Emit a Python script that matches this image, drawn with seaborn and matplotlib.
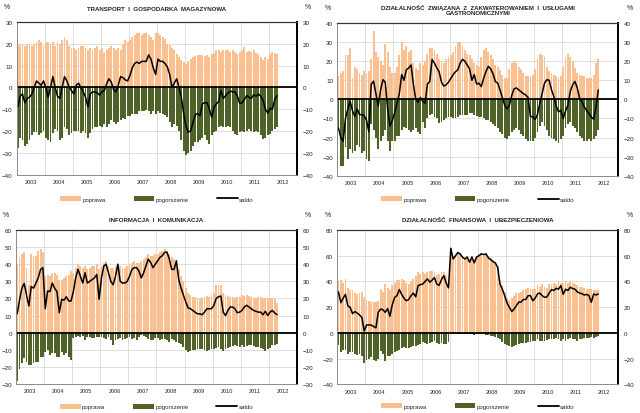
import numpy as np
import seaborn as sns
import matplotlib.pyplot as plt
from matplotlib import font_manager
from matplotlib.patches import Patch
from matplotlib.lines import Line2D

years = ["2003", "2004", "2005", "2006", "2007", "2008", "2009", "2010", "2011", "2012"]
legend_labels = ["poprawa", "pogorszenie", "saldo"]

# monthly values, Jan 2003 - Apr 2012
transport_poprawa = [
    19, 20, 20, 19, 20, 20, 19, 20, 21, 22, 21, 19,
    21, 21, 20, 21, 19, 21, 20, 22, 23, 22, 19, 18,
    18, 17, 18, 19, 19, 18, 17, 18, 17, 18, 19, 17,
    18, 16, 17, 18, 19, 18, 17, 18, 17, 20, 22, 21,
    22, 23, 24, 25, 25, 24, 25, 25, 24, 23, 22, 25,
    25, 24, 23, 22.5, 20, 19.5, 18, 17, 15.5, 14, 12.5, 11.7,
    11, 12, 13, 14, 14.5, 15, 15, 15, 14.5, 15, 14, 15.5,
    16, 17, 17, 16.5, 17, 17.4, 17, 16.3, 17, 16.3, 15.5, 16.3,
    17, 18.6, 16.3, 16.7, 16.3, 17, 15.8, 15.2, 14, 12.8, 14, 13.3,
    15.5, 16.3, 15.8, 15.2]
transport_pogorszenie = [
    -28, -23, -24, -27, -26, -24, -22, -20.5, -20.5, -22, -21, -20,
    -23, -24, -25, -21, -19, -20, -24, -23, -18, -19, -22, -21,
    -20, -20, -20, -21, -20, -21, -23, -21, -19, -18, -18, -17.5,
    -18, -17, -18, -17, -15, -16, -17, -16, -15, -14, -14.5, -13,
    -13, -12, -12, -12, -11, -11, -11, -10.5, -11, -12, -11, -12,
    -11, -11.5, -12, -12.5, -13.5, -16, -18, -17, -17.5, -20, -24, -29,
    -31, -30, -29, -27, -25, -25, -24, -23, -22, -24, -26, -22,
    -20.5, -20, -18.3, -17.5, -18.3, -18, -17.5, -18.3, -20, -21.4, -22, -20.6,
    -20, -20.6, -20, -19, -20, -20.6, -20, -20.6, -22, -23.7, -23, -22,
    -21.4, -20, -19, -18.3]
transport_saldo = [
    -9, -4, -3, -7, -5, -4.5, -3, 0, 3, 2, 1, 3,
    0, -4.5, 0, 5, 0, -4, -5, 0, 5, 3, 0, -1.5,
    -3, 1, 2, 0, -2, -4.5, -9, -3, -2, -2, -2.5, -3.5,
    -2, -1.5, 1.7, 4, 2.5, -1, -2, 1, 5, 4.5, 3.5, 3,
    5.5, 9, 11, 11.7, 11, 12, 12, 12, 15, 13, 9, 6,
    13, 12, 12, 11, 9.5, 6, 0, 2, 4, 0, -4.5, -12,
    -18, -20.5, -20, -16, -12.5, -12, -13, -7.5, -7, -7, -10, -13.7,
    -9, -7.5, -6.5, -1.4, -5, -3.7, -2.5, -1.7, -2, -2, -4, -7.3,
    -7, -5.5, -3.7, -4.5, -5, -3.3, -4, -3, -4, -6, -10, -11.8,
    -9.5, -10, -5.5, -3.7]

gastro_poprawa = [
    12, 14, 15, 23, 23, 27, 11, 17, 16, 14, 13, 15,
    14, 15, 21, 36, 25, 22, 20, 18, 29, 25, 17, 14,
    14, 17, 23, 30, 26, 28, 25, 26, 19, 16.5, 15.5, 19,
    18, 20, 24, 27, 27, 26, 24, 21, 20, 19, 21, 22,
    23, 25, 28, 30, 30, 28, 26, 24, 23, 21, 19, 18,
    17, 22, 26, 27, 25, 23, 21, 18, 17, 15.5, 13, 11,
    11, 16, 19, 20, 19, 17, 16, 14, 12.5, 12, 12, 13,
    16, 21, 24, 23.5, 22, 17, 15, 14, 13, 12, 11, 12,
    17, 22, 24, 22, 20, 16.5, 14, 13, 12, 12, 11, 11,
    11, 13, 19, 21]
gastro_pogorszenie = [
    -16, -35, -35, -25, -31, -26, -28, -27, -24, -25, -28, -27,
    -31, -32, -13, -16, -20, -26, -22, -19, -16, -22, -27, -22,
    -22, -19, -19, -16, -14.5, -15, -16, -17, -16, -15, -17, -18,
    -12, -15, -10, -8, -7.5, -9, -10, -12.5, -12, -11, -10, -9,
    -9, -10, -10, -9, -8, -8, -8, -8, -7, -7, -8, -8.5,
    -9, -9, -10, -11, -11, -12, -13, -14, -15, -17, -18, -20,
    -21, -19, -17, -16, -15, -16, -18, -19, -21, -22, -22, -22,
    -20, -17, -14, -12, -14, -16, -19, -20, -21, -22, -23, -21,
    -19, -15, -13, -12, -14, -15, -17, -19, -20, -22, -22, -21,
    -22, -21, -19, -16]
gastro_saldo = [
    -15, -20, -22, -10, -5, -1, -6, -9, -5, -8, -8, -8.5,
    -11, -17, 8, 9.5, 3, -3.5, 5, 10.3, 9, -5, -14, -11,
    -7, -2, 3, 13, 10, 15.5, 16.5, 18, 8, 0, -1.5, 1,
    -1, -2, 8, 9.4, 20.9, 19, 16.5, 14.5, 9, 7, 7.6, 9,
    11, 13, 14.5, 15.5, 19, 21, 20, 18, 16, 10, 13, 8,
    8.5, 6.7, 11, 14.5, 17.3, 16, 13.5, 9.4, 8.5, 5, 1, -3,
    -5, -3, 2, 5.5, 6, 5, 4, 3, 2.3, 1, -9, -9,
    -10.5, -8, -2, 3, 8.5, 10.3, 10, 5, 1.5, -3.5, -6.5, -5.7,
    -10, -6, -3, 4, 7.6, 9.4, 6, 0.5, -1.2, -4, -5.7, -7.4,
    -9.2, -10.4, -4, 5]

info_poprawa = [
    40, 44, 46, 47, 38, 28, 46, 45, 45, 48, 49, 47,
    33, 34, 33, 35, 35, 34, 31, 31, 32, 33, 34, 36,
    35, 38, 40, 39, 38, 39, 37, 38, 39, 39, 40, 37,
    39, 41, 42, 39, 38, 38, 39, 40, 39, 38, 38, 39,
    40, 41, 42, 41, 41, 42, 43, 44, 46, 45, 45, 46,
    46, 47, 48, 49, 48, 46, 44, 43, 41, 37, 33, 30,
    26, 23, 22, 21, 21, 20.5, 20.5, 20.5, 21, 21.5, 21, 22,
    23, 28, 28, 28, 23, 22, 21.5, 21, 21, 20, 21, 21,
    22, 21.5, 22, 21.5, 21, 20, 20.5, 21, 21, 20.5, 20, 20.5,
    20, 20, 19.5, 17.5]
info_pogorszenie = [
    -28, -21, -18, -15, -17, -19, -19, -18, -17, -17, -14, -14,
    -11, -10, -13, -12, -12, -14, -14, -11, -13, -12, -14, -16,
    -3, -2.5, -2, -2.5, -2, -4.5, -2.5, -2.5, -3, -3, -2.5, -2.5,
    -2.5, -3, -3.5, -2.5, -4.5, -7, -4.5, -3.5, -3, -4.5, -3.5, -3,
    -2.5, -3.5, -3, -4.5, -2.5, -1.5, -2, -2.5, -3.5, -4, -4.5, -3,
    -3, -4, -3.5, -3.5, -4.5, -5.5, -3.5, -4.5, -5.5, -6, -6.5, -8.5,
    -10, -11, -10.5, -10, -10, -9.7, -9.5, -9.7, -10, -10.5, -10, -9.7,
    -9.5, -9, -8.5, -9.5, -10.5, -9.3, -8.8, -8.5, -8, -7.4, -8, -8.5,
    -7.4, -8.4, -8, -7, -7.4, -8, -8.4, -8.4, -9, -9.7, -10.5, -9.3,
    -9, -7.4, -7, -6.4]
info_saldo = [
    11, 19, 26, 28.8, 22, 15.6, 27, 26, 29, 32, 37, 38,
    14, 24.4, 24, 29, 26, 24, 11.7, 19.5, 19, 21, 18.5, 18.5,
    24, 32, 37, 33, 29, 35, 29, 30, 31, 32, 34, 19.5,
    32, 39, 40, 35, 30, 28, 33, 40, 30, 29, 29, 30,
    33, 37, 38, 38, 36, 32, 35, 39, 43, 41, 38, 40,
    42, 44, 45, 47, 47, 43, 37, 37, 42, 31, 26, 22,
    18, 14.5, 14, 13, 12, 11, 11, 10.5, 12, 14, 14, 14,
    16, 20, 21, 21.4, 12, 10, 13, 15, 15, 14, 11.7, 12,
    13, 15, 16, 15, 14, 13, 12.5, 12, 12, 10.5, 12.5, 10,
    12, 13, 11.5, 10.5]

finanse_poprawa = [
    40, 41, 39, 42, 35, 33, 33, 31, 30, 31, 32, 28,
    26, 25, 24, 24, 24, 25, 34, 31.6, 38, 35, 33, 37,
    39, 41, 41, 42, 41, 39, 38, 40, 42, 44, 47, 46,
    47, 46, 47, 48, 48.5, 47, 45, 45.5, 47, 47.5, 45, 42,
    66, 59, 61, 63, 62, 60, 58, 60, 56, 60, 56, 60,
    61, 62, 61.5, 62, 60, 58, 56.5, 55, 52, 41, 37, 32,
    27, 26, 27, 29, 31, 31, 32, 33, 34, 35, 34, 34,
    34, 37, 36, 38, 36, 35, 38, 38, 39, 38, 40, 39,
    39, 40, 39, 40, 39, 38, 37, 36, 35.5, 35, 34.5, 34,
    34, 33, 33.5, 33]
finanse_pogorszenie = [
    -9, -15, -13, -13, -16, -15, -15, -16, -17.5, -16, -18, -23,
    -21, -20, -19, -21, -22, -20, -14, -16, -22, -18, -18, -16,
    -15, -13.7, -13, -12, -11, -12, -12, -11, -10, -10, -9.3, -8.5,
    -7, -7.5, -8.5, -7.5, -7, -6.5, -7.5, -8.5, -7.5, -8.5, -8.5, -7,
    -0.3, -0.5, -0.5, -0.8, -0.5, -0.5, -1, -1, -0.8, -1, -1.5, -1,
    -0.8, -1, -1, -1.5, -1.5, -2, -2.5, -3, -4, -5, -7, -8.5,
    -9, -10, -11, -10, -9, -8.5, -8, -7.5, -7.5, -7, -7, -6,
    -6, -5, -6, -6.5, -6, -5.5, -4.7, -5, -4.7, -4, -4.7, -6,
    -5, -6, -5, -4, -4.7, -5, -6, -5, -4.7, -4, -3.6, -4,
    -3.5, -4, -3, -2.5]
finanse_saldo = [
    32, 23.5, 27, 30, 21, 20, 15, 16.6, 15.5, 14, 12, 1.5,
    6.2, 6.2, 6.2, 5, 4, 16, 18.6, 18, 16, 19, 13, 22,
    27.7, 29, 33.7, 30, 27, 25, 26, 29, 31, 28, 36.8, 37.5,
    38, 40, 42, 39.5, 41, 43, 38, 37, 41.5, 44.5, 39, 35,
    65.8, 57.5, 60, 62.5, 61.4, 58.8, 57.5, 59, 55, 59, 54.5, 59,
    60, 61.4, 61, 61.4, 58.5, 57, 55.5, 54.4, 51, 38, 34, 29,
    23.3, 20, 16.6, 18.6, 21.2, 24, 24, 26, 26, 29, 29, 25,
    27, 30.3, 31, 29, 27.7, 28, 31, 33.7, 33, 34.7, 34, 36.8,
    30, 34, 33, 35.5, 34.5, 34, 32, 31, 30.5, 29.5, 30, 29,
    23.8, 30.3, 29.5, 30.3]

ORANGE = "#FAC090"
GREEN = "#4F6228"

sns.set_style("white")
names = {f.name for f in font_manager.fontManager.ttflist}
base_font = "Liberation Sans Narrow" if "Liberation Sans Narrow" in names else "Liberation Sans"
plt.rcParams["font.family"] = [base_font, "DejaVu Sans"]

panels = [
    dict(title="TRANSPORT  I  GOSPODARKA  MAGAZYNOWA",
         pop=transport_poprawa, pog=transport_pogorszenie, sal=transport_saldo,
         ylim=(-40, 30), step=10, pos=[0.026, 0.576, 0.438, 0.368], ty=1.087, ly=-0.16),
    dict(title="DZIAŁALNOŚĆ  ZWIĄZANA  Z  ZAKWATEROWANIEM  I  USŁUGAMI\nGASTRONOMICZNYMI",
         pop=gastro_poprawa, pog=gastro_pogorszenie, sal=gastro_saldo,
         ylim=(-40, 40), step=10, pos=[0.527, 0.573, 0.439, 0.369], ty=1.088, ly=-0.153),
    dict(title="INFORMACJA  I  KOMUNIKACJA",
         pop=info_poprawa, pog=info_pogorszenie, sal=info_saldo,
         ylim=(-30, 60), step=10, pos=[0.025, 0.070, 0.439, 0.372], ty=1.07, ly=-0.147),
    dict(title="DZIAŁALNOŚĆ  FINANSOWA  I  UBEZPIECZENIOWA",
         pop=finanse_poprawa, pog=finanse_pogorszenie, sal=finanse_saldo,
         ylim=(-40, 80), step=20, pos=[0.527, 0.069, 0.439, 0.373], ty=1.065, ly=-0.14),
]

fig = plt.figure(figsize=(6.4, 4.14), dpi=100)

for p in panels:
    ax = fig.add_axes(p["pos"])
    months = np.arange(len(p["pop"]))
    sns.barplot(x=months, y=p["pop"], color=ORANGE, width=0.8, native_scale=True,
                saturation=1, errorbar=None, linewidth=0, ax=ax, zorder=2)
    sns.barplot(x=months, y=p["pog"], color=GREEN, width=0.8, native_scale=True,
                saturation=1, errorbar=None, linewidth=0, ax=ax, zorder=2)
    ax.axhline(0, color="black", lw=1.3, zorder=4)
    sns.lineplot(x=months, y=p["sal"], color="black", lw=1.1, ax=ax, zorder=5)

    lo, hi = p["ylim"]
    yt = np.arange(lo, hi + 1, p["step"])
    ax.set_ylim(lo, hi)
    ax.set_yticks(yt)
    ax.set_xlim(-0.5, 119.5)
    ax.set_xticks(np.arange(-0.5, 120, 12))
    ax.set_xticklabels([])
    ax.set_xticks(np.arange(5.5, 120, 12), minor=True)
    ax.set_xticklabels(years, minor=True)
    ax.set_xlabel("")
    ax.set_ylabel("")
    ax.set_axisbelow(True)
    ax.grid(True, which="major", color="#D9D9D9", lw=0.6)
    ax.tick_params(axis="x", which="both", length=0, labelsize=4, pad=3, colors="#222222")
    ax.tick_params(axis="y", length=0, labelsize=4.5, pad=3, colors="#222222")

    ax2 = ax.twinx()
    ax2.set_ylim(lo, hi)
    ax2.set_yticks(yt)
    ax2.tick_params(axis="y", length=0, labelsize=4.5, pad=4, colors="#222222")
    for a in (ax, ax2):
        for side in ("left", "bottom"):
            a.spines[side].set_color("#8C8C8C")
            a.spines[side].set_linewidth(0.6)
        a.spines["top"].set_color("#333333")
        a.spines["top"].set_linewidth(0.8)
        a.spines["right"].set_color("black")
        a.spines["right"].set_linewidth(1.3)

    ax.text(-0.035, 1.1, "%", transform=ax.transAxes, ha="center", va="center", fontsize=5)
    ax.text(1.04, 1.1, "%", transform=ax.transAxes, ha="center", va="center", fontsize=5)
    ax.text(0.5, p["ty"], p["title"], transform=ax.transAxes, ha="center", va="center",
            fontsize=4.4, fontweight="bold", linespacing=1.1, color="#222222")

    handles = [Patch(facecolor=ORANGE, edgecolor="none"),
               Patch(facecolor=GREEN, edgecolor="none"),
               Line2D([0], [0], color="black", lw=1.3)]
    ax2.legend(handles, legend_labels, loc="center", bbox_to_anchor=(0.5, p["ly"]),
               ncol=3, frameon=False, fontsize=4.4, handlelength=3.4, handleheight=0.8,
               columnspacing=4.6, handletextpad=0.2)

fig.savefig("out.png", dpi=100)
